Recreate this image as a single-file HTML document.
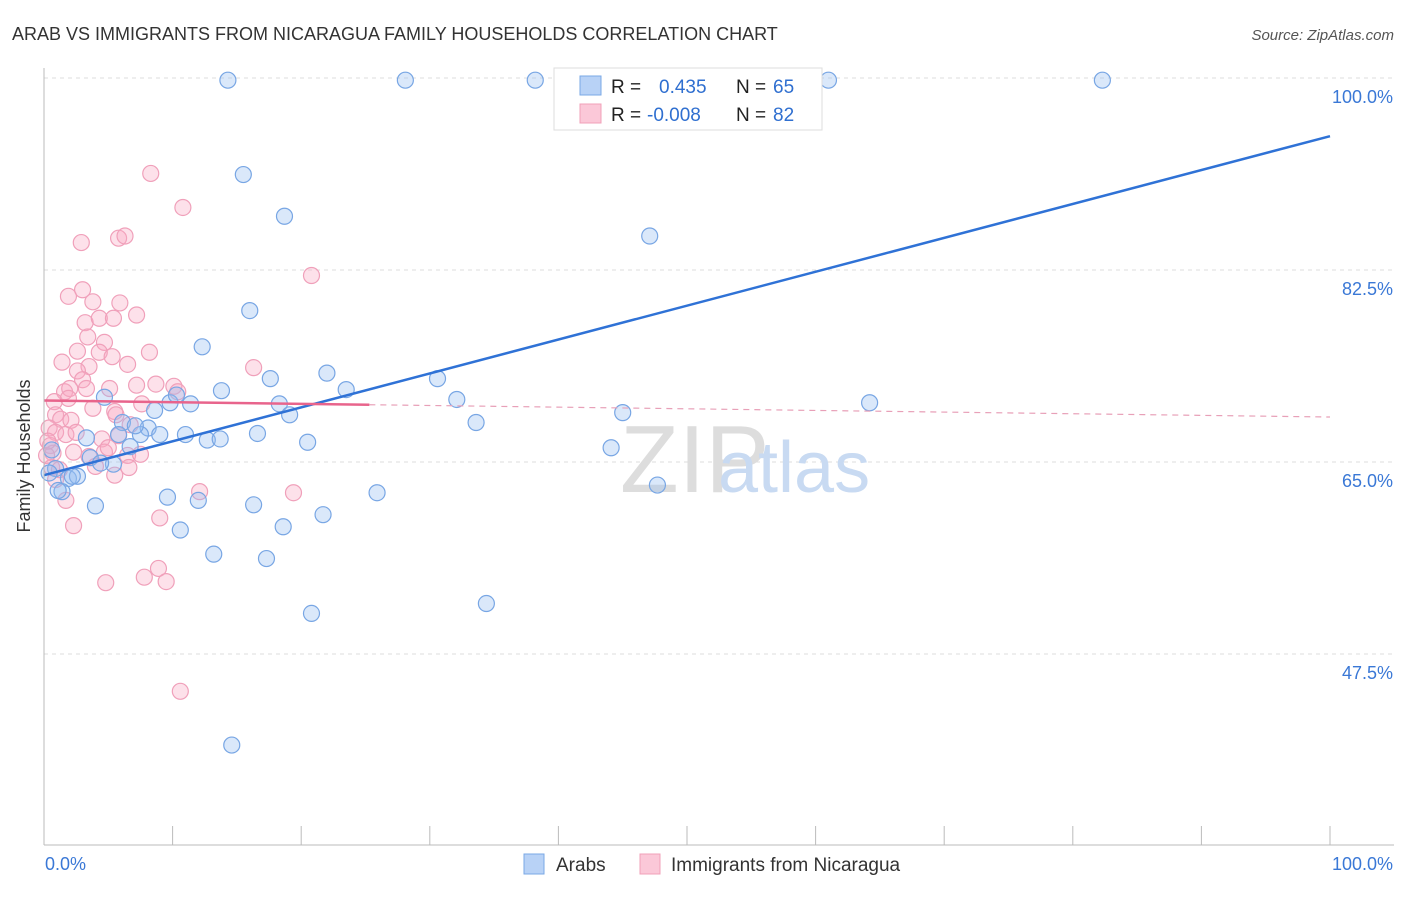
<!DOCTYPE html>
<html><head><meta charset="utf-8"><style>
body{margin:0;background:#fff;font-family:"Liberation Sans",sans-serif;}
svg text{font-family:"Liberation Sans",sans-serif;}
</style></head><body>
<svg id="chart" width="1406" height="892" xmlns="http://www.w3.org/2000/svg">
<text x="12" y="40" font-size="18" fill="#333">ARAB VS IMMIGRANTS FROM NICARAGUA FAMILY HOUSEHOLDS CORRELATION CHART</text>
<text x="1394" y="40" font-size="15" fill="#555" text-anchor="end" font-style="italic">Source: ZipAtlas.com</text>
<g id="grid"></g>
<text x="620" y="492" font-size="96" fill="#ddd" font-family="Liberation Serif">ZIP</text>
<text x="718" y="492" font-size="72" fill="#c8daf2">atlas</text>
<g id="points"></g>
<g id="lines"></g>
<g id="axes"></g>
<text x="30" y="456" font-size="18" fill="#333" text-anchor="middle" transform="rotate(-90 30 456)">Family Households</text>
<g>
<rect x="554" y="68" width="268" height="62" fill="#fff" stroke="#ddd"/>
<rect x="580" y="76" width="21" height="19" fill="#b8d2f6" stroke="#7aa8e6"/>
<rect x="580" y="104" width="21" height="19" fill="#fbc8d8" stroke="#f0a0b8"/>
<text x="611" y="93" font-size="19" fill="#222">R = <tspan x="659" fill="#2f6fd0">0.435</tspan><tspan x="736" fill="#222">N = </tspan><tspan x="773" fill="#2f6fd0">65</tspan></text>
<text x="611" y="121" font-size="19" fill="#222">R = <tspan x="647" fill="#2f6fd0">-0.008</tspan><tspan x="736" fill="#222">N = </tspan><tspan x="773" fill="#2f6fd0">82</tspan></text>
</g>
<g>
<rect x="524" y="854" width="20" height="20" fill="#b8d2f6" stroke="#7aa8e6"/>
<text x="556" y="871" font-size="19" fill="#333">Arabs</text>
<rect x="640" y="854" width="20" height="20" fill="#fbc8d8" stroke="#f0a0b8"/>
<text x="671" y="871" font-size="19" fill="#333">Immigrants from Nicaragua</text>
</g>
</svg>
<script>
const yTicks=[100,82.5,65,47.5];
const yTickLabels=["100.0%","82.5%","65.0%","47.5%"];
const xTickLabels=["0.0%","100.0%"];
const arabX=[14.3,28.1,38.2,61.0,82.3,15.5,18.7,47.1,16.0,12.3,22.0,17.6,13.8,23.5,30.6,32.1,64.2,8.6,9.8,11.4,10.3,18.3,19.1,33.6,45.0,4.7,6.1,8.1,9.0,11.0,12.7,13.7,16.6,20.5,7.5,6.7,3.3,5.8,44.1,3.6,5.4,4.4,1.9,2.6,0.9,0.6,1.4,1.1,9.6,12.0,25.9,47.7,4.0,16.3,18.6,21.7,10.6,13.2,17.3,34.4,20.8,14.6,2.2,7.1,0.4];
const arabY=[99.8,99.8,99.8,99.8,99.8,91.2,87.4,85.6,78.8,75.5,73.1,72.6,71.5,71.6,72.6,70.7,70.4,69.7,70.4,70.3,71.1,70.3,69.3,68.6,69.5,70.9,68.6,68.1,67.5,67.5,67.0,67.1,67.6,66.8,67.5,66.4,67.2,67.5,66.3,65.4,64.8,64.9,63.5,63.7,64.4,66.1,62.3,62.4,61.8,61.5,62.2,62.9,61.0,61.1,59.1,60.2,58.8,56.6,56.2,52.1,51.2,39.2,63.7,68.3,64.0];
const nicX=[8.3,10.8,2.9,5.8,6.3,20.8,1.9,3.0,3.8,5.9,7.2,3.2,4.3,5.4,3.4,4.7,2.6,4.3,8.2,5.3,1.4,3.5,6.5,16.3,2.6,3.0,5.1,7.2,8.7,10.1,1.6,2.0,3.3,10.4,0.8,1.9,3.8,5.5,7.6,0.9,1.3,2.1,6.7,5.6,0.4,0.9,1.7,2.5,4.5,0.5,0.7,2.3,3.5,4.7,6.5,7.5,4.0,5.5,6.6,0.6,0.9,12.1,19.4,9.0,2.3,7.8,8.9,4.8,9.5,10.6,5.8,5.0,1.2,0.2,1.7,0.3];
const nicY=[91.3,88.2,85.0,85.4,85.6,82.0,80.1,80.7,79.6,79.5,78.4,77.7,78.1,78.1,76.4,75.9,75.1,75.0,75.0,74.6,74.1,73.7,73.9,73.6,73.3,72.5,71.7,72.0,72.1,71.9,71.4,71.7,71.7,71.4,70.5,70.8,69.9,69.6,70.3,69.3,68.9,68.8,68.4,69.3,68.1,67.7,67.5,67.7,67.1,66.5,65.8,65.9,65.5,65.9,65.6,65.7,64.6,63.8,64.5,64.5,63.4,62.3,62.2,59.9,59.2,54.5,55.3,54.0,54.1,44.1,67.4,66.3,64.3,65.6,61.5,66.9];
const arabTrend=[63.8,94.7];
const nicTrend=[70.6,69.1];
const nicSolidEnd=25.3;

const NS="http://www.w3.org/2000/svg";
const X0=44,X1=1330,YTOP=78,PXPER=192/17.5;
const xs=v=>X0+v/100*(X1-X0);
const ys=v=>YTOP+(100-v)*PXPER;
function mk(tag,attrs,parent){const e=document.createElementNS(NS,tag);for(const k in attrs)e.setAttribute(k,attrs[k]);parent.appendChild(e);return e;}
const grid=document.getElementById('grid'),axes=document.getElementById('axes'),pts=document.getElementById('points'),lines=document.getElementById('lines');
yTicks.forEach((t,i)=>{
 const l=mk('line',{x1:X0,x2:1394,y1:ys(t),y2:ys(t),stroke:'#ddd','stroke-dasharray':'4 4'},grid);
 
 
 const tx=mk('text',{x:1393,y:ys(t)+25,'font-size':18,fill:'#3a78d6','text-anchor':'end'},axes);
 tx.textContent=yTickLabels[i];
 
 
});
const la=mk('line',{x1:X0,x2:X0,y1:68,y2:845,stroke:'#bbb'},axes);


const lb=mk('line',{x1:X0,x2:1394,y1:845,y2:845,stroke:'#bbb'},axes);


for(let i=0;i<=10;i++){
 const t=mk('line',{x1:xs(i*10),x2:xs(i*10),y1:826,y2:845,stroke:'#bbb'},axes);
 
 
}
const xl0=mk('text',{x:45,y:870,'font-size':18,fill:'#3a78d6'},axes);
xl0.textContent=xTickLabels[0];


const xl1=mk('text',{x:1393,y:870,'font-size':18,fill:'#3a78d6','text-anchor':'end'},axes);
xl1.textContent=xTickLabels[1];


nicX.forEach((v,i)=>{
 const c=mk('circle',{cx:xs(v),cy:ys(nicY[i]),r:8,fill:'rgba(248,170,195,0.35)',stroke:'#f0a0ba','stroke-width':1.2},pts);
 
 
});
arabX.forEach((v,i)=>{
 const c=mk('circle',{cx:xs(v),cy:ys(arabY[i]),r:8,fill:'rgba(150,190,240,0.35)',stroke:'#78a6e4','stroke-width':1.2},pts);
 
 
});
const bl=mk('line',{x1:xs(0),y1:ys(arabTrend[0]),x2:xs(100),y2:ys(arabTrend[1]),stroke:'#2f72d6','stroke-width':2.5},lines);


const nAt=p=>nicTrend[0]+(nicTrend[1]-nicTrend[0])*p/100;
const pl=mk('line',{x1:xs(0),y1:ys(nicTrend[0]),x2:xs(nicSolidEnd),y2:ys(nAt(nicSolidEnd)),stroke:'#e8648c','stroke-width':2.5},lines);


const pd=mk('line',{x1:xs(nicSolidEnd),y1:ys(nAt(nicSolidEnd)),x2:xs(100),y2:ys(nicTrend[1]),stroke:'#e8a0b8','stroke-width':1.2,'stroke-dasharray':'6 5'},lines);


</script>
</body></html>
